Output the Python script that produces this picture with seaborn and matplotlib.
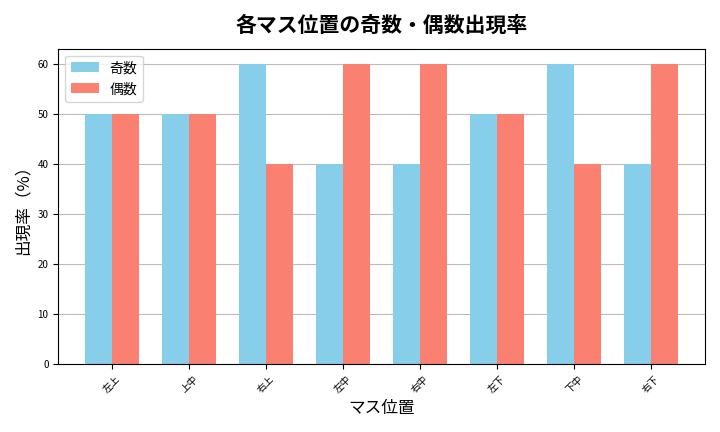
import matplotlib
matplotlib.use("Agg")
import matplotlib.pyplot as plt
import seaborn as sns
import pandas as pd

plt.rcParams["font.family"] = "Noto Sans CJK JP"

positions = ["左上", "上中", "右上", "左中", "右中", "左下", "下中", "右下"]
odd = [50, 50, 60, 40, 40, 50, 60, 40]
even = [50, 50, 40, 60, 60, 50, 40, 60]

df = pd.DataFrame({
    "pos": positions * 2,
    "rate": odd + even,
    "kind": ["奇数"] * len(positions) + ["偶数"] * len(positions),
})

fig, ax = plt.subplots(figsize=(7.2, 4.32), dpi=100)
sns.barplot(data=df, x="pos", y="rate", hue="kind", order=positions,
            palette={"奇数": "skyblue", "偶数": "salmon"}, width=0.7,
            saturation=1, ax=ax)
ax.set_title("各マス位置の奇数・偶数出現率", fontsize=15, fontweight="bold", pad=12)
ax.set_xlabel("マス位置", fontsize=12)
ax.set_ylabel("出現率（%）", fontsize=12)
ax.tick_params(axis="x", labelrotation=45, labelsize=7)
ax.tick_params(axis="y", labelsize=7)
ax.set_ylim(0, 63)
ax.set_xlim(-0.7, 7.7)
ax.yaxis.grid(True, color="#bbbbbb", linewidth=0.8)
ax.set_axisbelow(True)
ax.legend(title=None, loc="upper left", fontsize=10)
fig.tight_layout()
fig.savefig("out.png", dpi=100)
